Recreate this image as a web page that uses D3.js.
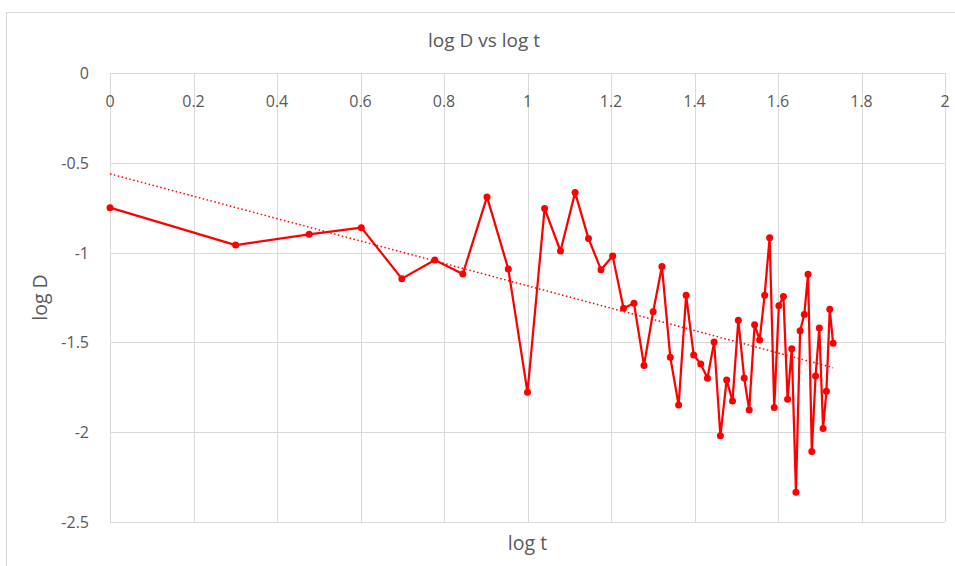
<!DOCTYPE html>
<html>
<head>
<meta charset="utf-8">
<script src="https://cdn.jsdelivr.net/npm/d3@7"></script>
<style>
    body { margin: 0; background: #fff; }
    svg { display: block; font-family: "Open Sans", sans-serif; }
</style>
</head>
<body>
<svg id="chart" width="955" height="566"></svg>
<script>
// log t (t = 1 .. 54)
const logT = [0, 0.301, 0.477, 0.602, 0.699, 0.778, 0.845, 0.903, 0.954, 1,
              1.041, 1.079, 1.114, 1.146, 1.176, 1.204, 1.230, 1.255, 1.279, 1.301,
              1.322, 1.342, 1.362, 1.380, 1.398, 1.415, 1.431, 1.447, 1.462, 1.477,
              1.491, 1.505, 1.519, 1.531, 1.544, 1.556, 1.568, 1.580, 1.591, 1.602,
              1.613, 1.623, 1.633, 1.643, 1.653, 1.663, 1.672, 1.681, 1.690, 1.699,
              1.708, 1.716, 1.724, 1.732]

// log D
const logD = [-0.750, -0.958, -0.898, -0.861, -1.145, -1.041, -1.119, -0.690, -1.091, -1.778,
              -0.755, -0.991, -0.666, -0.921, -1.095, -1.019, -1.310, -1.282, -1.628, -1.329,
              -1.077, -1.583, -1.849, -1.238, -1.570, -1.620, -1.699, -1.498, -2.020, -1.709,
              -1.826, -1.376, -1.698, -1.876, -1.402, -1.486, -1.238, -0.917, -1.863, -1.296,
              -1.245, -1.817, -1.535, -2.335, -1.435, -1.344, -1.121, -2.107, -1.687, -1.420,
              -1.980, -1.772, -1.316, -1.505]

const xTicks = [0, 0.2, 0.4, 0.6, 0.8, 1, 1.2, 1.4, 1.6, 1.8, 2]
const yTicks = [0, -0.5, -1, -1.5, -2, -2.5]

const title = "log D vs log t"
const xTitle = "log t"
const yTitle = "log D"

const margin = {left: 110, top: 73, right: 945, bottom: 522}
const textColor = "#595959"
const gridColor = "#d9d9d9"
const red = "#ff0000"

let points = logT.map((t, i) => ({x: t, y: logD[i]}))

let svg = d3.select("#chart")

let x = d3.scaleLinear().domain([0, 2]).range([margin.left, margin.right])
let y = d3.scaleLinear().domain([-2.5, 0]).range([margin.bottom, margin.top])

// chart border
svg.append("rect")
   .attr("x", 6.5)
   .attr("y", 12.5)
   .attr("width", 980)
   .attr("height", 600)
   .attr("fill", "none")
   .attr("stroke", gridColor)
   .attr("stroke-width", 1)

// vertical gridlines
svg.append("g")
   .selectAll("line")
   .data(xTicks)
   .enter()
   .append("line")
   .attr("x1", d => Math.round(x(d)) + 0.5)
   .attr("x2", d => Math.round(x(d)) + 0.5)
   .attr("y1", margin.top)
   .attr("y2", margin.bottom)
   .attr("stroke", gridColor)

// horizontal gridlines
svg.append("g")
   .selectAll("line")
   .data(yTicks)
   .enter()
   .append("line")
   .attr("x1", margin.left)
   .attr("x2", margin.right)
   .attr("y1", d => Math.round(y(d)) + 0.5)
   .attr("y2", d => Math.round(y(d)) + 0.5)
   .attr("stroke", gridColor)

// x tick labels sit under the 0 line
svg.append("g")
   .selectAll("text")
   .data(xTicks)
   .enter()
   .append("text")
   .attr("x", d => x(d))
   .attr("y", margin.top + 34)
   .attr("text-anchor", "middle")
   .attr("fill", textColor)
   .attr("font-size", 16)
   .text(d => d3.format("~g")(d))

// y tick labels
svg.append("g")
   .selectAll("text")
   .data(yTicks)
   .enter()
   .append("text")
   .attr("x", 89)
   .attr("y", d => y(d) + 6)
   .attr("text-anchor", "end")
   .attr("fill", textColor)
   .attr("font-size", 16)
   .text(d => d3.format("~g")(d).replace("−", "-"))

// linear trendline, least squares like Excel does it
let mx = d3.mean(logT), my = d3.mean(logD)
let slope = d3.sum(points, p => (p.x - mx) * (p.y - my)) / d3.sum(points, p => (p.x - mx) ** 2)
let intercept = my - slope * mx
let xExtent = d3.extent(logT)

svg.append("line")
   .attr("x1", x(xExtent[0]))
   .attr("x2", x(xExtent[1]))
   .attr("y1", y(intercept + slope * xExtent[0]))
   .attr("y2", y(intercept + slope * xExtent[1]))
   .attr("stroke", red)
   .attr("stroke-width", 1.5)
   .attr("stroke-dasharray", "1.5,2.5")

// data series
svg.append("path")
   .datum(points)
   .attr("fill", "none")
   .attr("stroke", red)
   .attr("stroke-width", 2.25)
   .attr("stroke-linejoin", "round")
   .attr("d", d3.line().x(p => x(p.x)).y(p => y(p.y)))

svg.append("g")
   .selectAll("circle")
   .data(points)
   .enter()
   .append("circle")
   .attr("cx", p => x(p.x))
   .attr("cy", p => y(p.y))
   .attr("r", 3.5)
   .attr("fill", red)

// titles
svg.append("text")
   .attr("x", 484)
   .attr("y", 47)
   .attr("text-anchor", "middle")
   .attr("fill", textColor)
   .attr("font-size", 19)
   .text(title)

svg.append("text")
   .attr("x", (margin.left + margin.right) / 2)
   .attr("y", 550)
   .attr("text-anchor", "middle")
   .attr("fill", textColor)
   .attr("font-size", 19.5)
   .text(xTitle)

svg.append("text")
   .attr("transform", "translate(47," + (margin.top + margin.bottom) / 2 + ") rotate(-90)")
   .attr("text-anchor", "middle")
   .attr("fill", textColor)
   .attr("font-size", 19.5)
   .text(yTitle)
</script>
</body>
</html>
